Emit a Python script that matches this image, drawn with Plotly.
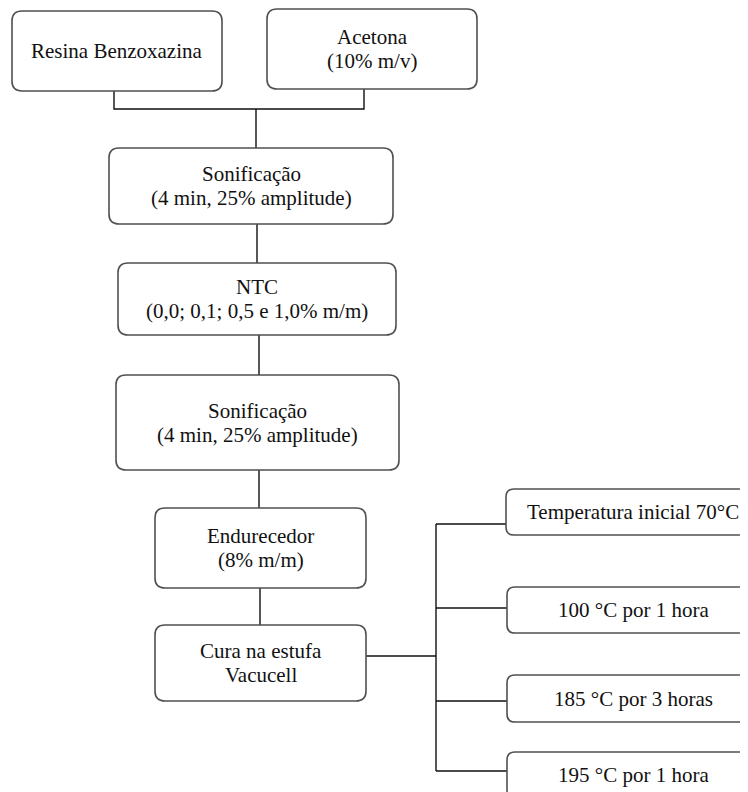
import plotly.graph_objects as go

# ------------------------------------------------------------
# CONTENT
# ------------------------------------------------------------

node_labels = [
    ["Resina Benzoxazina"],
    ["Acetona", "(10% m/v)"],
    ["Sonificação", "(4 min, 25% amplitude)"],
    ["NTC", "(0,0; 0,1; 0,5 e 1,0% m/m)"],
    ["Sonificação", "(4 min, 25% amplitude)"],
    ["Endurecedor", "(8% m/m)"],
    ["Cura na estufa", "Vacucell"],
    ["Temperatura inicial 70°C"],
    ["100 °C por 1 hora"],
    ["185 °C por 3 horas"],
    ["195 °C por 1 hora"],
]

# ------------------------------------------------------------
# LAYOUT (page pixel space, y pointing down)
# ------------------------------------------------------------

W, H = 748, 792
PAD = 8  # browser body margin

boxes = [
    (12, 11, 222, 91),
    (267, 9, 477, 89),
    (109, 148, 393, 224),
    (118, 263, 396, 335),
    (116, 375, 399, 470),
    (155, 508, 366, 588),
    (155, 625, 366, 701),
    (506, 489, 760, 535),
    (507, 587, 760, 633),
    (507, 675, 760, 722),
    (507, 752, 760, 798),
]

connectors = [
    [(114, 91), (114, 109), (364, 109), (364, 89)],
    [(256, 109), (256, 148)],
    [(257, 224), (257, 263)],
    [(259, 335), (259, 375)],
    [(259, 470), (259, 508)],
    [(260, 588), (260, 625)],
    [(366, 656), (436, 656)],
    [(436, 524), (436, 771)],
    [(436, 524), (506, 524)],
    [(436, 608), (507, 608)],
    [(436, 701), (507, 701)],
    [(436, 771), (507, 771)],
]

LINE_GAP = 24
FONT = dict(family="Liberation Serif, Times New Roman, serif", size=21, color="#111111")


def rounded_rect(x0, y0, x1, y1, r=10):
    return (f"M {x0 + r},{y0} L {x1 - r},{y0} Q {x1},{y0} {x1},{y0 + r} "
            f"L {x1},{y1 - r} Q {x1},{y1} {x1 - r},{y1} "
            f"L {x0 + r},{y1} Q {x0},{y1} {x0},{y1 - r} "
            f"L {x0},{y0 + r} Q {x0},{y0} {x0 + r},{y0} Z")


fig = go.Figure()

# connector lines
for pts in connectors:
    fig.add_trace(go.Scatter(
        x=[p[0] for p in pts],
        y=[p[1] for p in pts],
        mode="lines",
        line=dict(color="#111111", width=1.4),
        hoverinfo="skip",
        showlegend=False,
    ))

# boxes + text
for (x0, y0, x1, y1), lines in zip(boxes, node_labels):
    fig.add_shape(
        type="path",
        path=rounded_rect(x0, y0, x1, y1, 10 if (y1 - y0) > 60 else 8),
        xref="x", yref="y",
        line=dict(color="#505050", width=1.6),
        fillcolor="white",
        layer="above",
    )
    cx = (x0 + x1) / 2
    cy = (y0 + y1) / 2
    if y1 > H:
        cy = (y0 + y0 + 46) / 2
    n = len(lines)
    for k, txt in enumerate(lines):
        fig.add_annotation(
            x=cx, y=cy + (k - (n - 1) / 2) * LINE_GAP,
            xref="x", yref="y",
            text=txt, showarrow=False,
            font=FONT,
            xanchor="center", yanchor="middle",
        )

fig.update_layout(
    width=W - PAD,
    height=H - PAD,
    margin=dict(l=0, r=0, t=0, b=0),
    paper_bgcolor="white",
    plot_bgcolor="white",
    showlegend=False,
)
fig.update_xaxes(range=[PAD, W], visible=False, fixedrange=True)
fig.update_yaxes(range=[H, PAD], visible=False, fixedrange=True)

fig.write_html("out.html")
